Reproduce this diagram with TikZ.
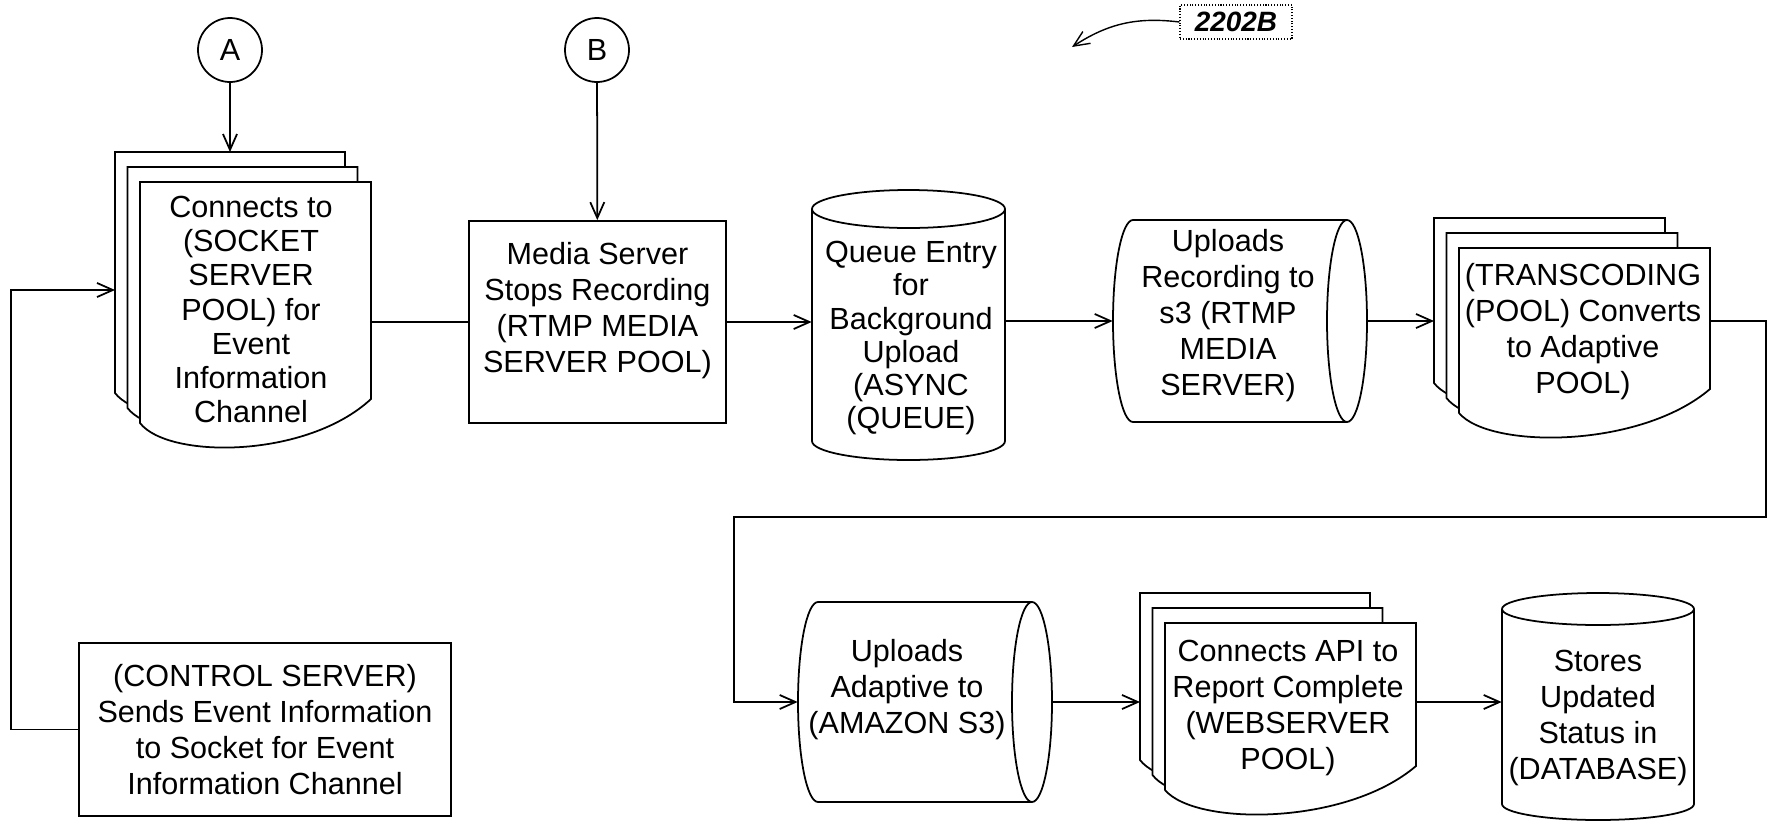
\documentclass[tikz,border=0pt]{standalone}
\usepackage{fontspec}
\setmainfont{Liberation Sans}
\usepackage{tikz}
\usetikzlibrary{shapes,arrows,arrows.meta,positioning,calc}
\tikzstyle{box}=[draw, line width=1pt, align=center, inner sep=2pt]
\tikzstyle{cylbox}=[rectangle, draw=none, inner sep=0pt]
\tikzstyle{joint}=[circle, draw, line width=1pt, minimum size=1.28cm, inner sep=0pt]
\tikzstyle{txt}=[align=center, inner sep=0pt]
\tikzstyle{arrow}=[draw, line width=1pt, ->]
\tikzstyle{line}=[draw, line width=1pt]

% one sheet: x, y (top left), width, height of left side
\newcommand{\docsheet}[4]{%
  \filldraw[fill=white, line width=1pt] ({#1},{#2-#4}) -- ({#1},{#2}) -- ({#1+#3},{#2})
    -- ({#1+#3},{#2-#4+0.48})
    .. controls ({#1+0.72*#3},{#2-#4-0.72}) and ({#1+0.12*#3},{#2-#4-0.72}) .. ({#1},{#2-#4}) -- cycle;}
% stack of three sheets: name, x, y (front top left), front width, back width, height
\newcommand{\docstack}[6]{%
  \docsheet{#2-0.5}{#3+0.6}{#5}{#6}
  \docsheet{#2-0.25}{#3+0.3}{#5}{#6}
  \docsheet{#2}{#3}{#4}{#6}
  \coordinate (#1-b) at ({#2-0.5},{#3+0.6});
  \coordinate (#1-r) at ({#2+#4},{#3});}
% lying cylinder: name, x, y (centre), width, height
\newcommand{\hcyl}[5]{%
  \node[cylbox, minimum width=#4cm, minimum height=#5cm] (#1) at (#2,#3) {};
  \draw[line width=1pt] ({#2+#4/2-0.4},{#3}) ellipse [x radius=0.4, y radius={#5/2}];
  \draw[line width=1pt] ({#2+#4/2-0.4},{#3+#5/2}) -- ({#2-#4/2+0.4},{#3+#5/2})
    arc[start angle=90, end angle=270, x radius=0.4, y radius={#5/2}] -- ({#2+#4/2-0.4},{#3-#5/2});}
% standing cylinder: name, x, y (centre), width, height, cap radius
\newcommand{\vcyl}[6]{%
  \node[cylbox, minimum width=#4cm, minimum height=#5cm] (#1) at (#2,#3) {};
  \draw[line width=1pt] ({#2},{#3+#5/2-#6}) ellipse [x radius={#4/2}, y radius=#6];
  \draw[line width=1pt] ({#2-#4/2},{#3+#5/2-#6}) -- ({#2-#4/2},{#3-#5/2+#6})
    arc[start angle=180, end angle=360, x radius={#4/2}, y radius=#6] -- ({#2+#4/2},{#3+#5/2-#6});}
% strut that pushes a node text up
\newcommand{\hightext}[1]{\rule[-#1]{0pt}{0pt}}

\begin{document}
\begin{tikzpicture}[>={Straight Barb[length=9pt,width=8pt]}, font=\fontsize{17.4}{20.5}\selectfont]
  \useasboundingbox (0,0) rectangle (35.5,-16.56);

  % Off-page connectors
  \node[joint] (cA) at (4.6,-1.0) {A};
  \node[joint] (cB) at (11.94,-1.0) {B};

  % Figure label
  \node[draw, densely dotted, line width=0.6pt, minimum width=2.24cm, minimum height=0.68cm,
        font=\fontsize{15.9}{18}\selectfont\bfseries\itshape] (fig) at (24.72,-0.44) {2202B};
  \coordinate (figtip) at (21.44,-0.94);
  \draw[->, line width=0.8pt] (fig.west) to[bend right=20] (figtip);

  % Top row
  \docstack{sock}{2.8}{-3.64}{4.62}{4.6}{4.82}
  \node[txt, font=\fontsize{17.4}{19.4}\selectfont] (sock) at (5.02,-6.19)
    {Connects to\\(SOCKET\\SERVER\\POOL) for\\Event\\Information\\Channel};
  \node[box, minimum width=5.14cm, minimum height=4.04cm] (media) at (11.95,-6.44)
    {Media Server\\Stops Recording\\(RTMP MEDIA\\SERVER POOL)\hightext{0.6cm}};
  \vcyl{queue}{18.17}{-6.5}{3.86}{5.4}{0.38}
  \node[txt, font=\fontsize{17.4}{18.8}\selectfont] (queue-t) at (18.22,-6.76)
    {Queue Entry\\for\\Background\\Upload\\(ASYNC\\(QUEUE)};
  \hcyl{upl}{24.8}{-6.42}{5.08}{4.04}
  \node[txt] (upl-t) at (24.56,-6.32)
    {Uploads\\Recording to\\s3 (RTMP\\MEDIA\\SERVER)};
  \docstack{trans}{29.18}{-4.96}{5.02}{4.62}{3.3}
  \node[txt] (trans) at (31.66,-6.64)
    {(TRANSCODING\\(POOL) Converts\\to Adaptive\\POOL)};

  % Bottom row
  \node[box, minimum width=7.44cm, minimum height=3.46cm] (ctrl) at (5.3,-14.59)
    {(CONTROL SERVER)\\Sends Event Information\\to Socket for Event\\Information Channel};
  \hcyl{amz}{18.5}{-14.04}{5.08}{4.0}
  \node[txt] (amz-t) at (18.14,-13.8)
    {Uploads\\Adaptive to\\(AMAZON S3)};
  \docstack{web}{23.3}{-12.46}{5.02}{4.6}{3.34}
  \node[txt] (web) at (25.76,-14.16)
    {Connects API to\\Report Complete\\(WEBSERVER\\POOL)};
  \vcyl{db}{31.96}{-14.13}{3.84}{4.54}{0.32}
  \node[txt] (db-t) at (31.96,-14.36)
    {Stores\\Updated\\Status in\\(DATABASE)};

  % Connectors
  \draw[arrow] (cA) -- (cA |- sock-b);
  \draw[arrow] (cB) -- (media);
  \draw[line] (sock-r |- media.west) -- (media.west);
  \draw[arrow] (media.east) -- (media.east -| queue.west);
  \draw[arrow] (queue.east |- upl.west) -- (upl.west);
  \draw[arrow] (upl.east) -- (upl.east -| trans-b);
  \draw[arrow] (trans-r |- upl.east) -- ++(1.12,0) |- (14.68,-10.34) |- (amz.west);
  \draw[arrow] (amz.east) -- (amz.east -| web-b);
  \draw[arrow] (web-r |- amz.east) -- (amz.east -| db.west);
  \draw[arrow] (ctrl.west) -- ++(-1.34,0) |- ([yshift=-2.76cm]sock-b);
\end{tikzpicture}
\end{document}
